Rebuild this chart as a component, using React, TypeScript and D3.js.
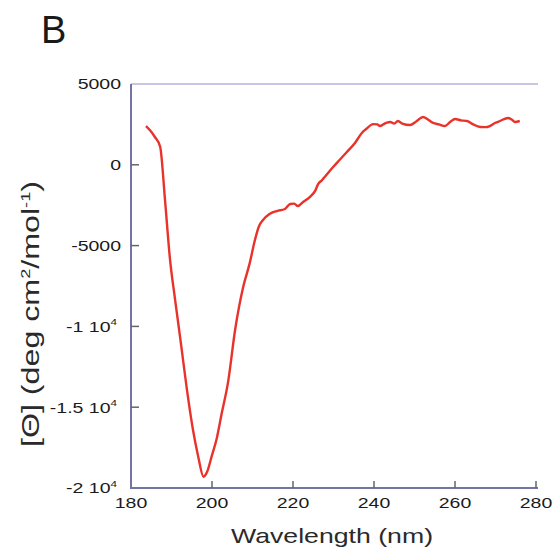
import React, { useEffect, useRef } from "react";
import * as d3 from "d3";

// CD spectrum, panel B
const wavelength = [
  183.7, 185.0, 185.9, 187.2, 188.4, 189.6, 190.9, 192.3, 193.8, 195.3, 196.6,
  197.9, 198.8, 199.9, 201.2, 202.4, 204.0, 205.7, 207.7, 209.3, 210.6, 211.6,
  212.6, 214.2, 216.0, 218.0, 219.3, 220.3, 221.2, 222.5, 224.2, 225.5, 226.2,
  227.2, 229.9, 231.5, 233.3, 235.3, 237.0, 238.0, 239.8, 240.8, 241.5, 243.0,
  244.0, 245.0, 245.9, 247.0, 248.9, 250.5, 252.1, 253.3, 254.6, 256.0, 257.5,
  258.8, 260.0, 261.5, 263.0, 264.5, 266.2, 267.5, 268.6, 270.0, 271.1, 273.1,
  274.0, 274.8, 276.0,
];
const theta = [
  2400, 2050, 1720, 1120, -2180, -5770, -8370, -11000, -13900, -16400, -18060,
  -19300, -19000, -18060, -16900, -15380, -13400, -10220, -7560, -6100, -4650,
  -3800, -3415, -3050, -2860, -2735, -2425, -2400, -2550, -2300, -1990, -1600,
  -1200, -940, -140, 300, 790, 1350, 1970, 2200, 2520, 2500, 2400, 2600, 2650,
  2550, 2710, 2550, 2460, 2700, 2960, 2800, 2590, 2500, 2400, 2650, 2830, 2750,
  2710, 2500, 2340, 2330, 2400, 2600, 2710, 2900, 2800, 2650, 2710,
];

const xTicks = [180, 200, 220, 240, 260, 280];
const yTicks = [5000, 0, -5000, -10000, -15000, -20000];
// [mantissa, exponent] for each y tick label
const yTickLabels: [string, string][] = [
  ["5000", ""],
  ["0", ""],
  ["-5000", ""],
  ["-1 10", "4"],
  ["-1.5 10", "4"],
  ["-2 10", "4"],
];

const FONT = "'Liberation Sans', Arial, Helvetica, sans-serif";
const STRETCH = 1.3; // the original text is wide

const App = () => {
  const svgRef = useRef<SVGSVGElement>(null);

  useEffect(() => {
    if (!svgRef.current) return;
    const svg = d3.select(svgRef.current);
    svg.selectAll("*").remove();

    const left = 131;
    const right = 536;
    const top = 84;
    const bottom = 488;

    const x = d3.scaleLinear().domain([180, 280]).range([left, right]);
    const y = d3.scaleLinear().domain([-20000, 5000]).range([bottom, top]);

    const g = svg.append("g").attr("font-family", FONT);

    // panel letter
    g.append("text")
      .attr("x", 41)
      .attr("y", 43)
      .attr("font-size", 38)
      .attr("fill", "#1a1a1a")
      .text("B");

    // frame: top, left, bottom
    g.append("line")
      .attr("x1", left)
      .attr("x2", right + 2)
      .attr("y1", top)
      .attr("y2", top)
      .attr("stroke", "#b4b4dc")
      .attr("stroke-width", 1.5);
    g.append("line")
      .attr("x1", left)
      .attr("x2", left)
      .attr("y1", top)
      .attr("y2", bottom)
      .attr("stroke", "#7474a4")
      .attr("stroke-width", 2);
    g.append("line")
      .attr("x1", left - 1)
      .attr("x2", right + 2)
      .attr("y1", bottom)
      .attr("y2", bottom)
      .attr("stroke", "#7474a4")
      .attr("stroke-width", 2);

    // y ticks (inward)
    yTicks.forEach((v, i) => {
      if (i > 0 && i < yTicks.length - 1) {
        g.append("line")
          .attr("x1", left)
          .attr("x2", left + 8)
          .attr("y1", y(v))
          .attr("y2", y(v))
          .attr("stroke", "#666")
          .attr("stroke-width", 1.5);
      }
      const [m, e] = yTickLabels[i];
      const t = g
        .append("text")
        .attr("transform", `translate(${e ? 117 : 121},${y(v)}) scale(${STRETCH},1)`)
        .attr("text-anchor", "end")
        .attr("dy", "0.36em")
        .attr("font-size", 15)
        .attr("fill", "#1a1a1a");
      t.append("tspan").text(m);
      if (e) {
        t.append("tspan")
          .attr("font-size", 9)
          .attr("dy", "-0.75em")
          .text(e);
      }
    });

    // x ticks (inward) and labels
    xTicks.forEach((v, i) => {
      if (i > 0) {
        g.append("line")
          .attr("x1", x(v))
          .attr("x2", x(v))
          .attr("y1", bottom)
          .attr("y2", bottom - 7)
          .attr("stroke", "#666")
          .attr("stroke-width", 1.5);
      }
      g.append("text")
        .attr("transform", `translate(${x(v)},${508}) scale(${STRETCH},1)`)
        .attr("text-anchor", "middle")
        .attr("font-size", 15)
        .attr("fill", "#1a1a1a")
        .text(String(v));
    });

    // axis titles
    g.append("text")
      .attr("transform", `translate(332,543) scale(1.27,1)`)
      .attr("text-anchor", "middle")
      .attr("font-size", 21)
      .attr("fill", "#2a2a2a")
      .text("Wavelength (nm)");

    const yl = g
      .append("text")
      .attr("transform", `translate(39,314) rotate(-90) scale(1.4,1)`)
      .attr("text-anchor", "middle")
      .attr("font-size", 23)
      .attr("fill", "#2a2a2a");
    yl.append("tspan").text("[\u0398] (deg cm");
    yl.append("tspan").attr("font-size", 13).attr("dy", "-0.7em").text("2");
    yl.append("tspan").attr("dy", "0.4em").text("/mol");
    yl.append("tspan").attr("font-size", 13).attr("dy", "-0.7em").text("-1");
    yl.append("tspan").attr("dy", "0.4em").text(")");

    // spectrum
    const points = wavelength.map((w, i) => [w, theta[i]] as [number, number]);
    const line = d3
      .line<[number, number]>()
      .x((d) => x(d[0]))
      .y((d) => y(d[1]))
      .curve(d3.curveMonotoneX);

    g.append("path")
      .datum(points)
      .attr("fill", "none")
      .attr("stroke", "#e8322a")
      .attr("stroke-width", 2.4)
      .attr("stroke-linejoin", "round")
      .attr("d", line);
  }, []);

  return (
    <svg
      ref={svgRef}
      width={555}
      height={554}
      style={{ position: "absolute", left: 0, top: 0, background: "#fff" }}
    />
  );
};

export default App;
